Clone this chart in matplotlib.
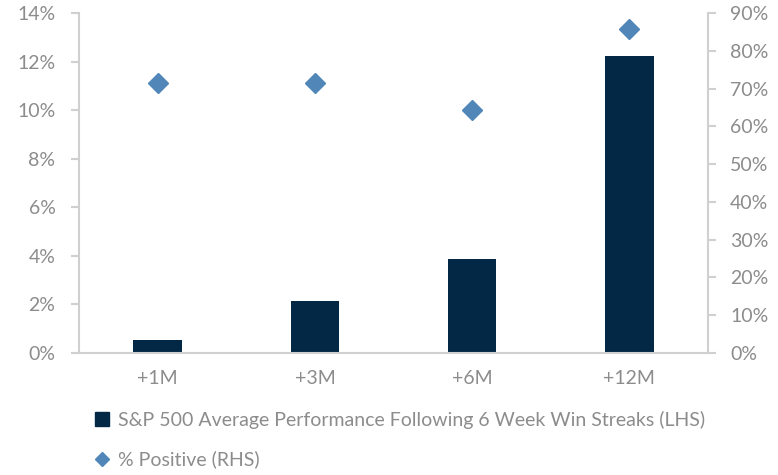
import matplotlib
matplotlib.use("Agg")
import matplotlib.pyplot as plt
from matplotlib.patches import Rectangle
from matplotlib.lines import Line2D
from matplotlib.ticker import FuncFormatter

categories = ["+1M", "+3M", "+6M", "+12M"]
avg_perf = [0.53, 2.14, 3.87, 12.22]      # % (LHS)
pct_positive = [71.4, 71.4, 64.3, 85.7]   # % (RHS)
bar_label = "S&P 500 Average Performance Following 6 Week Win Streaks (LHS)"
dot_label = "% Positive (RHS)"

bar_color = "#022846"
dot_color = "#5087B8"
text_color = "#8C8C8C"
spine_color = "#D0D0D0"

plt.rcParams['font.family'] = ['Lato', 'DejaVu Sans']
fs = 14

fig = plt.figure(figsize=(7.78, 4.75), dpi=100)
ax = fig.add_axes([79/778, 1-353/475, (708-79)/778, (353-13)/475])
ax2 = ax.twinx()

x = list(range(len(categories)))
ax.bar(x, avg_perf, width=0.31, color=bar_color, zorder=2)
ax2.plot(x, pct_positive, linestyle='none', marker='D', markersize=10,
         color=dot_color, zorder=3)

ax.set_xlim(-0.5, 3.5)
ax.set_ylim(0, 14)
ax.set_yticks(range(0, 15, 2))
ax.yaxis.set_major_formatter(FuncFormatter(lambda v, p: f"{v:.0f}%"))
ax2.set_ylim(0, 90)
ax2.set_yticks(range(0, 91, 10))
ax2.yaxis.set_major_formatter(FuncFormatter(lambda v, p: f"{v:.0f}%"))

ax.set_xticks(x)
ax.set_xticklabels(categories)

for a in (ax, ax2):
    for s in a.spines.values():
        s.set_visible(False)
    a.patch.set_visible(False)

ax.spines['left'].set_visible(True)
ax.spines['left'].set_color(spine_color)
ax.spines['left'].set_linewidth(1.5)
ax.spines['bottom'].set_visible(True)
ax.spines['bottom'].set_color(spine_color)
ax.spines['bottom'].set_linewidth(1.5)
ax2.spines['right'].set_visible(True)
ax2.spines['right'].set_color(spine_color)
ax2.spines['right'].set_linewidth(1.5)

ax.tick_params(axis='y', colors=spine_color, labelcolor=text_color, labelsize=fs,
               length=6, width=1.5, pad=11)
ax.tick_params(axis='x', length=0, labelcolor=text_color, labelsize=fs, pad=12)
ax2.tick_params(axis='y', colors=spine_color, labelcolor=text_color, labelsize=fs,
                length=6, width=1.5, pad=10)

handles = [Rectangle((0, 0), 1, 1, color=bar_color),
           Line2D([], [], linestyle='none', marker='D', markersize=7, color=dot_color)]
fig.legend(handles, [bar_label, dot_label], loc='upper left',
           bbox_to_anchor=(95/778, 1-411/475), frameon=False, fontsize=fs,
           labelcolor=text_color, handlelength=0.7, handleheight=0.7,
           handletextpad=0.5, labelspacing=1.1, borderaxespad=0, borderpad=0)

fig.savefig("out.png", dpi=100)
